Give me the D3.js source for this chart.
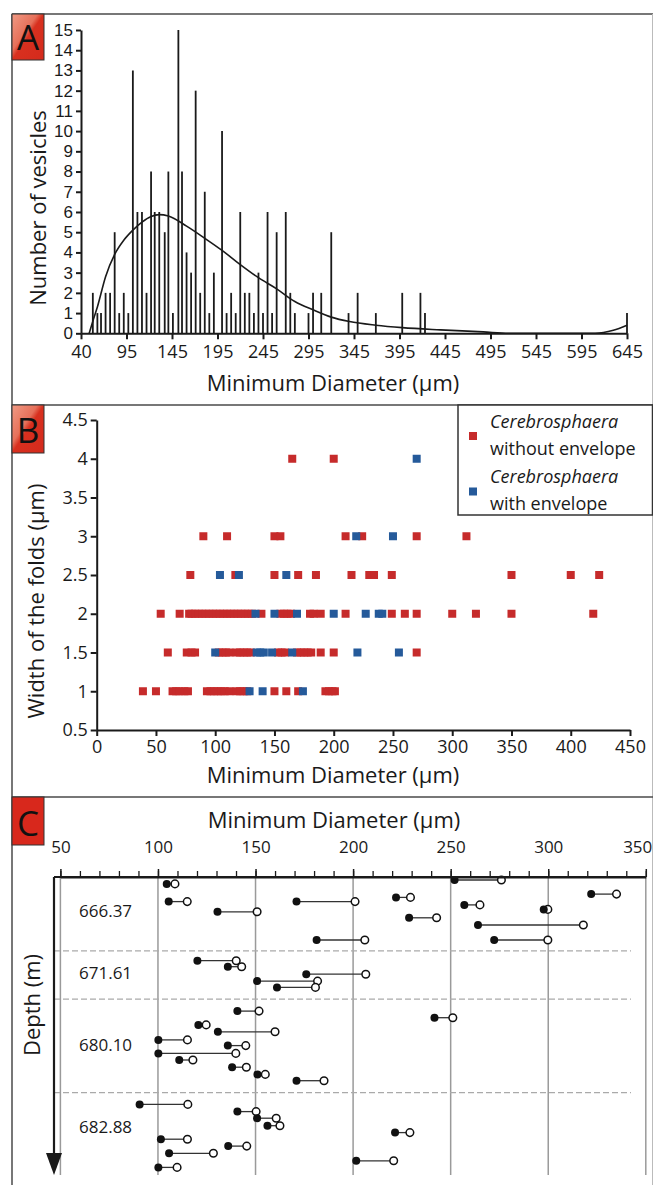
<!DOCTYPE html>
<html><head><meta charset="utf-8">
<script src="https://cdn.jsdelivr.net/npm/d3@7"></script>
<style>
html,body{margin:0;padding:0;background:#fff;}
svg{display:block;font-family:'Open Sans',sans-serif;}
</style></head>
<body>
<script>
// ---------- DATA ----------
// Panel A: histogram of minimum diameters
const histDiameters = [58,63,67,72,77,82,87,92,97,102,107,112,117,122,126,131,137,141,146,152,156,161,166,171,176,181,186,191,200,205,210,215,220,225,230,235,240,245,250,255,260,270,275,280,295,300,309,320,339,349,369,398,418,423,645];
const histCounts    = [2,1,1,2,2,5,1,2,1,13,6,6,2,8,6,6,5,8,1,15,8,4,3,12,2,7,1,3,10,1,2,1,6,2,2,1,3,1,6,1,5,6,2,1,1,2,2,5,1,2,1,2,2,1,1];
const fitDiameters  = [54,58,63,72,82,92,102,112,122,131,141,161,181,200,220,240,260,280,300,320,340,369,398,440,487,515,560,610,630,645];
const fitCounts     = [0,0.6,1.3,2.8,3.9,4.6,5.1,5.5,5.78,5.87,5.8,5.3,4.7,4.1,3.4,2.75,2.2,1.57,1.16,0.8,0.58,0.4,0.28,0.17,0.07,0,0,0,0.15,0.4];
const tickValuesA   = [45,95,145,195,245,295,345,395,445,495,545,595,645];
const tickLabelsA   = ["40","95","145","195","245","295","345","395","445","495","545","595","645"];
const yTicksA       = d3.range(0,16);

// Panel B: fold width vs diameter (rows by width)
const withoutEnvelopeRows = [
  [4,   [165,200]],
  [3,   [90,110,150,155,210,224,270,312]],
  [2.5, [79,117,150,170,185,215,230,234,249,350,400,424]],
  [2,   [54,70,78,80,83,86,89,92,95,98,101,104,107,110,113,116,119,122,125,128,131,139,155,158,161,164,180,183,189,210,249,260,270,300,320,350,419]],
  [1.5, [60,76,80,83,103,106,109,112,118,121,124,127,130,153,156,159,169,172,175,178,181,189,200,270]],
  [1,   [39,50,64,67,70,74,77,93,96,99,102,105,108,112,118,121,124,127,150,160,170,193,196,199,201]]
];
const withEnvelopeRows = [
  [4,   [270]],
  [3,   [219,250]],
  [2.5, [104,120,160]],
  [2,   [134,150,169,200,227,238,241]],
  [1.5, [100,135,138,141,148,165,220,255]],
  [1,   [129,140,174]]
];
const xTicksB = d3.range(0,451,50);
const yTicksB = [0.5,1,1.5,2,2.5,3,3.5,4,4.5];
const legendLabels = [["Cerebrosphaera","without envelope"],["Cerebrosphaera","with envelope"]];

// Panel C: min/max diameter per specimen, by depth
const depthLabels = ["666.37","671.61","680.10","682.88"];
const depthLabelRows = [11.2,31.7,55.7,83.3];
const depthSeparatorRows = [24.6,40.7,71.9];
// [row, min diameter, max diameter]
const specimens = [
  [1,252,276],[2.3,104.5,108.7],[5.7,322,335],[6.8,222,229.4],[8.2,105.5,115],[8.2,171,201],
  [9.3,257,265],[10.8,297.7,299.8],[11.6,130.5,150.8],[13.6,228.7,242.8],[16,264,318],[21,181.3,206],[21,272.3,299.8],
  [27.9,120.2,140.1],[29.9,135.8,142.9],[32.4,176,206.5],[34.7,150.8,181.8],[36.8,161,180.7],
  [44.7,140.7,151.8],[46.9,241.7,251.1],[49.3,120.7,124.7],[51.6,130.7,160],[54.3,100.2,115.1],[56.2,135.8,145],
  [58.8,100.2,139.9],[61,110.9,117.9],[63.4,138,145.3],[65.8,151,155],[67.9,171,185.1],
  [75.8,90.6,115.3],[78.2,140.7,150.3],[80.4,150.8,160.6],[82.9,156.1,162.5],[85.2,221.5,229.1],[87.4,101.5,115.1],
  [89.7,136,145.5],[92.1,105.7,128.4],[94.6,201.6,220.8],[96.8,100.2,109.8]
];
const xTicksC = d3.range(50,351,50);
const xMinorC = d3.range(50,351,10);

// ---------- DRAW ----------
const W = 653, H = 1185;
const svg = d3.select("body").append("svg").attr("width",W).attr("height",H);
const defs = svg.append("defs");
const grad = defs.append("linearGradient").attr("id","boxg").attr("x1",0).attr("y1",0).attr("x2",1).attr("y2",1);
grad.append("stop").attr("offset","0").attr("stop-color","#f09a84");
grad.append("stop").attr("offset","0.4").attr("stop-color","#e6705a");
grad.append("stop").attr("offset","0.5").attr("stop-color","#d8301f");
grad.append("stop").attr("offset","1").attr("stop-color","#d42a1c");

const frame = "#4a4a4a";
svg.append("line").attr("x1",12).attr("x2",W).attr("y1",14).attr("y2",14).attr("stroke",frame).attr("stroke-width",1.5);
svg.append("line").attr("x1",12).attr("x2",12).attr("y1",14).attr("y2",H).attr("stroke",frame).attr("stroke-width",1.5);
svg.append("line").attr("x1",652.5).attr("x2",652.5).attr("y1",14).attr("y2",H).attr("stroke","#bbb").attr("stroke-width",1);
[405,797].forEach(y=>svg.append("line").attr("x1",12).attr("x2",W).attr("y1",y).attr("y2",y).attr("stroke",frame).attr("stroke-width",1.5));

function panelBox(y,h,letter,fill,baseline){
  svg.append("rect").attr("x",12).attr("y",y).attr("width",32).attr("height",h).attr("fill",fill).attr("stroke","#333").attr("stroke-width",1);
  svg.append("text").attr("x",28).attr("y",baseline).attr("text-anchor","middle").attr("font-size",35).attr("fill","#111").text(letter);
}
panelBox(14,46,"A","url(#boxg)",50);
panelBox(405,48,"B","url(#boxg)",443);
panelBox(797,48,"C","#d8281c",836);

function styleAxis(g,fs,family){
  g.selectAll("path").attr("stroke","#1a1a1a").attr("stroke-width",2);
  g.selectAll("line").attr("stroke","#1a1a1a").attr("stroke-width",2);
  g.selectAll("text").attr("font-size",fs).attr("fill","#1a1a1a").attr("font-family",family||"'Open Sans',sans-serif");
}

// ----- Panel A -----
const xA = d3.scaleLinear().domain([45,645]).range([81,627]);
const yA = d3.scaleLinear().domain([0,15]).range([333.3,30]);
const gA = svg.append("g");
gA.selectAll("line.bar").data(histDiameters).join("line").attr("class","bar")
  .attr("x1",d=>xA(d)).attr("x2",d=>xA(d))
  .attr("y1",yA(0)).attr("y2",(d,i)=>yA(histCounts[i]))
  .attr("stroke","#1a1a1a").attr("stroke-width",1.8);
const fitLine = d3.line().x(d=>xA(d)).y((d,i)=>yA(fitCounts[i])).curve(d3.curveMonotoneX);
gA.append("path").attr("d",fitLine(fitDiameters)).attr("fill","none").attr("stroke","#1a1a1a").attr("stroke-width",1.6);
const axA = gA.append("g").attr("transform",`translate(0,${yA(0)})`)
  .call(d3.axisBottom(xA).tickValues(tickValuesA).tickFormat((d,i)=>tickLabelsA[i]).tickSize(6).tickPadding(6).tickSizeOuter(0));
styleAxis(axA,18);
const ayA = gA.append("g").attr("transform",`translate(${xA(45)},0)`)
  .call(d3.axisLeft(yA).tickValues(yTicksA).tickFormat(d3.format("d")).tickSize(5).tickPadding(3).tickSizeOuter(0));
styleAxis(ayA,17,"'Liberation Sans',Arial,sans-serif");
gA.append("text").attr("x",333).attr("y",391).attr("text-anchor","middle").attr("font-size",22).attr("fill","#1a1a1a").text("Minimum Diameter (µm)");
gA.append("text").attr("transform","translate(37,208) rotate(-90)").attr("text-anchor","middle").attr("dominant-baseline","central").attr("font-size",22).attr("fill","#1a1a1a").text("Number of vesicles");

// ----- Panel B -----
const xB = d3.scaleLinear().domain([0,450]).range([96.7,630]);
const yB = d3.scaleLinear().domain([0.5,4.5]).range([730,420]);
const gB = svg.append("g");
const red = "#c62b2b", blue = "#255a9a";
const ptsWithout = withoutEnvelopeRows.flatMap(([w,ds])=>ds.map(d=>[d,w]));
const ptsWith = withEnvelopeRows.flatMap(([w,ds])=>ds.map(d=>[d,w]));
const sq = 8;
gB.selectAll("rect.r").data(ptsWithout).join("rect").attr("class","r")
  .attr("x",d=>xB(d[0])-sq/2).attr("y",d=>yB(d[1])-sq/2).attr("width",sq).attr("height",sq).attr("fill",red);
gB.selectAll("rect.b").data(ptsWith).join("rect").attr("class","b")
  .attr("x",d=>xB(d[0])-sq/2).attr("y",d=>yB(d[1])-sq/2).attr("width",sq).attr("height",sq).attr("fill",blue);
const axB = gB.append("g").attr("transform",`translate(0,${yB(0.5)})`)
  .call(d3.axisBottom(xB).tickValues(xTicksB).tickSize(6).tickPadding(4).tickSizeOuter(0));
styleAxis(axB,18);
const ayB = gB.append("g").attr("transform",`translate(${xB(0)},0)`)
  .call(d3.axisLeft(yB).tickValues(yTicksB).tickFormat(d=>String(d)).tickSize(6).tickPadding(3).tickSizeOuter(0));
styleAxis(ayB,18);
gB.append("text").attr("x",333).attr("y",783).attr("text-anchor","middle").attr("font-size",22).attr("fill","#1a1a1a").text("Minimum Diameter (µm)");
gB.append("text").attr("transform","translate(35,601) rotate(-90)").attr("text-anchor","middle").attr("dominant-baseline","central").attr("font-size",22).attr("fill","#1a1a1a").text("Width of the folds (µm)");
const lg = gB.append("g");
lg.append("rect").attr("x",458).attr("y",405).attr("width",194.5).attr("height",110).attr("fill","#fff").attr("stroke","#333").attr("stroke-width",1.5);
[[red,428,455,436],[blue,483,510,491.5]].forEach((c,i)=>{
  lg.append("rect").attr("x",473-sq/2).attr("y",c[3]-sq/2).attr("width",sq).attr("height",sq).attr("fill",c[0]);
  lg.append("text").attr("x",490).attr("y",c[1]).attr("font-size",18).attr("font-style","italic").attr("fill","#1a1a1a").text(legendLabels[i][0]);
  lg.append("text").attr("x",490).attr("y",c[2]).attr("font-size",18).attr("fill","#1a1a1a").text(legendLabels[i][1]);
});

// ----- Panel C -----
const xC = d3.scaleLinear().domain([50,350]).range([60.4,645.8]);
const yC = d3.scaleLinear().domain([0,100]).range([877,1177]);
const gC = svg.append("g");
gC.selectAll("line.grid").data(xTicksC).join("line").attr("class","grid")
  .attr("x1",d=>xC(d)).attr("x2",d=>xC(d)).attr("y1",yC(0)).attr("y2",1175)
  .attr("stroke","#9a9a9a").attr("stroke-width",1.5);
gC.selectAll("line.sep").data(depthSeparatorRows).join("line").attr("class","sep")
  .attr("x1",54).attr("x2",631).attr("y1",d=>yC(d)).attr("y2",d=>yC(d))
  .attr("stroke","#aaa").attr("stroke-width",1.2).attr("stroke-dasharray","6,3");
gC.selectAll("text.depth").data(depthLabels).join("text").attr("class","depth")
  .attr("x",79).attr("y",(d,i)=>yC(depthLabelRows[i])).attr("dominant-baseline","central")
  .attr("font-size",17).attr("fill","#1a1a1a").text(d=>d);
const sp = gC.selectAll("g.sp").data(specimens).join("g").attr("class","sp");
sp.append("line").attr("x1",d=>xC(d[1])).attr("x2",d=>xC(d[2])).attr("y1",d=>yC(d[0])).attr("y2",d=>yC(d[0]))
  .attr("stroke","#333").attr("stroke-width",1.3);
sp.append("circle").attr("cx",d=>xC(d[2])).attr("cy",d=>yC(d[0])).attr("r",3.8).attr("fill","#fff").attr("stroke","#111").attr("stroke-width",1.5);
sp.append("circle").attr("cx",d=>xC(d[1])).attr("cy",d=>yC(d[0])).attr("r",4).attr("fill","#111");
const axMinor = gC.append("g").attr("transform",`translate(0,${yC(0)})`)
  .call(d3.axisTop(xC).tickValues(xMinorC).tickSize(6).tickFormat("").tickSizeOuter(0));
styleAxis(axMinor,16);
axMinor.selectAll("line").attr("stroke-width",1.3);
axMinor.select("path").remove();
const axC = gC.append("g").attr("transform",`translate(0,${yC(0)})`)
  .call(d3.axisTop(xC).tickValues(xTicksC).tickSize(8).tickPadding(16).tickSizeOuter(0));
styleAxis(axC,17);
axC.selectAll("line").attr("stroke-width",1.5);
axC.selectAll(".tick").filter(d=>d===350).select("text").attr("text-anchor","end").attr("x",6);
gC.append("line").attr("x1",54).attr("x2",xC(350)).attr("y1",yC(0)).attr("y2",yC(0)).attr("stroke","#1a1a1a").attr("stroke-width",2);
gC.append("text").attr("x",334).attr("y",828).attr("text-anchor","middle").attr("font-size",22).attr("fill","#1a1a1a").text("Minimum Diameter (µm)");
gC.append("line").attr("x1",54).attr("x2",54).attr("y1",yC(0)).attr("y2",1160).attr("stroke","#1a1a1a").attr("stroke-width",2.2);
gC.append("path").attr("d","M46,1153 L62,1153 L54,1175 Z").attr("fill","#1a1a1a");
gC.append("text").attr("transform","translate(31,1005) rotate(-90)").attr("text-anchor","middle").attr("dominant-baseline","central").attr("font-size",22).attr("fill","#1a1a1a").text("Depth (m)");
</script>
</body></html>
